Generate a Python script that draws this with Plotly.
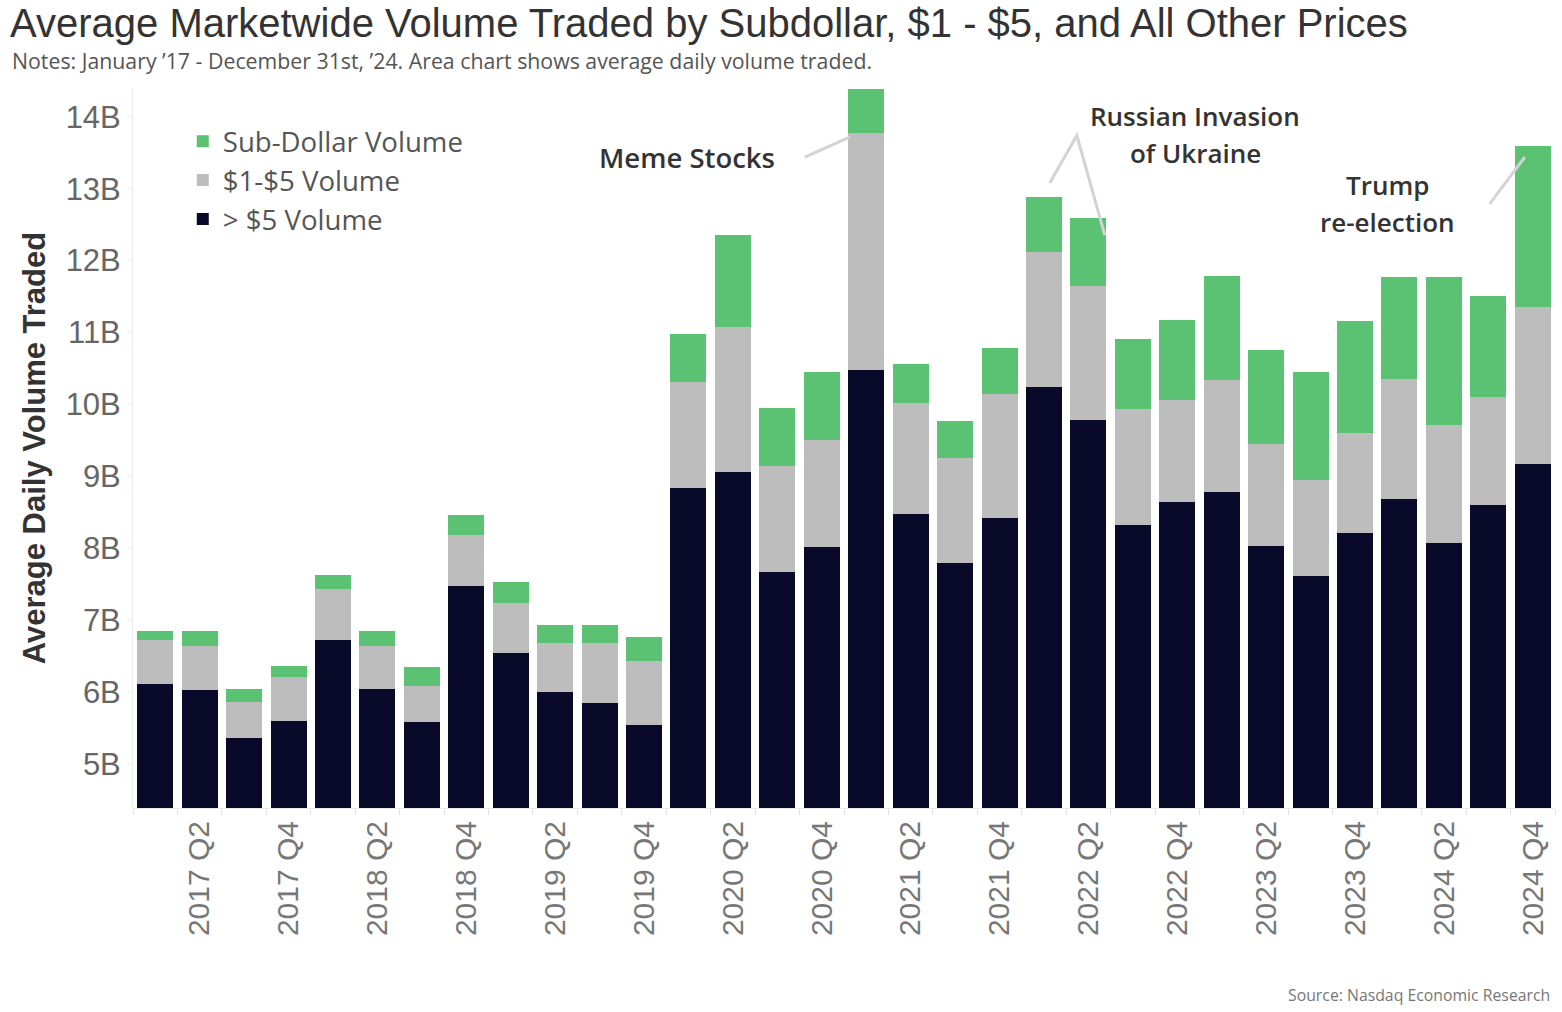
import plotly.graph_objects as go

quarters = [f"{y} Q{q}" for y in range(2017, 2025) for q in range(1, 5)]
tick_labels = [q if q.endswith(("Q2", "Q4")) else "" for q in quarters]

# values in billions of shares (average daily volume)
over5 = [6.11, 6.035, 5.36, 5.60, 6.73, 6.05, 5.58, 7.48,
         6.55, 6.00, 5.85, 5.54, 8.835, 9.06, 7.67, 8.02,
         10.475, 8.475, 7.79, 8.42, 10.25, 9.78, 8.33, 8.64,
         8.78, 8.03, 7.62, 8.215, 8.69, 8.07, 8.60, 9.17]
one_to_five = [0.62, 0.605, 0.51, 0.615, 0.70, 0.59, 0.51, 0.70,
               0.69, 0.69, 0.83, 0.90, 1.475, 2.02, 1.48, 1.48,
               3.30, 1.545, 1.47, 1.72, 1.87, 1.865, 1.61, 1.42,
               1.56, 1.42, 1.33, 1.395, 1.67, 1.65, 1.50, 2.18]
sub_dollar = [0.125, 0.215, 0.18, 0.145, 0.20, 0.215, 0.26, 0.29,
              0.295, 0.24, 0.25, 0.33, 0.67, 1.27, 0.805, 0.95,
              0.615, 0.54, 0.515, 0.64, 0.76, 0.95, 0.97, 1.12,
              1.45, 1.31, 1.50, 1.555, 1.41, 2.05, 1.415, 2.24]

GREEN = "#5BC273"
GREY = "#BDBDBD"
NAVY = "#09092A"

fig = go.Figure()
fig.add_bar(x=quarters, y=over5, name="> $5 Volume", marker_color=NAVY, marker_line_width=0)
fig.add_bar(x=quarters, y=one_to_five, name="$1-$5 Volume", marker_color=GREY, marker_line_width=0)
fig.add_bar(x=quarters, y=sub_dollar, name="Sub-Dollar Volume", marker_color=GREEN, marker_line_width=0)

LINE = dict(color="#D3D3D3", width=3)
# annotation leader lines (category index, value in B)
fig.add_shape(type="line", x0=14.62, y0=13.44, x1=15.64, y1=13.72, line=LINE)
fig.add_shape(type="path", path="M 20.13,13.08 L 20.74,13.74 L 21.37,12.35", line=LINE)
fig.add_shape(type="line", x0=30.03, y0=12.79, x1=30.82, y1=13.44, line=LINE)

notes = [
    ("Meme Stocks", 11.97, 13.44, 27.5),
    ("Russian Invasion", 23.4, 14.01, 26),
    ("of Ukraine", 23.4, 13.50, 26),
    ("Trump", 27.74, 13.05, 26),
    ("re-election", 27.74, 12.535, 26),
]
for txt, xv, yv, fs in notes:
    fig.add_annotation(x=xv, y=yv, text=txt, showarrow=False,
                       font=dict(family="Open Sans", size=fs, color="#333333", weight=600),
                       xanchor="center", yanchor="middle")

fig.add_annotation(xref="paper", yref="paper", x=-0.0865, y=1.0375,
                   text="Notes: January \u201917 - December 31st, \u201924. Area chart shows average daily volume traded.",
                   showarrow=False, xanchor="left", yanchor="middle",
                   font=dict(family="Open Sans", size=21.3, color="#555555"))
fig.add_annotation(xref="paper", yref="paper", x=0.998, y=-0.26,
                   text="Source: Nasdaq Economic Research", showarrow=False,
                   xanchor="right", yanchor="middle",
                   font=dict(family="Open Sans", size=15.8, color="#777777"))

fig.update_layout(
    width=1562, height=1012,
    margin=dict(l=133, r=7, t=88, b=204),
    paper_bgcolor="white", plot_bgcolor="white",
    barmode="stack", bargap=0.19,
    title=dict(text="Average Marketwide Volume Traded by Subdollar, $1 - $5, and All Other Prices",
               xref="container", yref="container", x=10/1562, xanchor="left",
               y=1 - 23/1012, yanchor="middle",
               font=dict(family="Liberation Sans", size=40, color="#333333")),
    legend=dict(x=0.035, y=0.96, xanchor="left", yanchor="top", traceorder="reversed",
                font=dict(family="Open Sans", size=27.6, color="#555555"),
                bgcolor="rgba(0,0,0,0)", itemclick=False),
    showlegend=True,
)
fig.update_yaxes(range=[4.39, 14.40], dtick=1, tick0=5, ticksuffix="B",
                 showgrid=False, zeroline=False, showline=True, linecolor="#EBEBEB",
                 ticks="outside", ticklen=5, tickcolor="#EBEBEB",
                 tickfont=dict(family="Liberation Sans", size=31, color="#666666"),
                 title=dict(text="Average Daily Volume Traded", standoff=10,
                            font=dict(family="Liberation Sans", size=31, color="#333333", weight="bold")))
fig.update_xaxes(type="category", tickvals=quarters, ticktext=tick_labels, tickangle=-90,
                 tickson="boundaries", ticks="outside", ticklen=6, tickcolor="#E3E3E3",
                 showline=True, linecolor="#EBEBEB", showgrid=False,
                 range=[-0.5, 31.5],
                 tickfont=dict(family="Liberation Sans", size=30, color="#777777"))

fig.write_html("out.html")
